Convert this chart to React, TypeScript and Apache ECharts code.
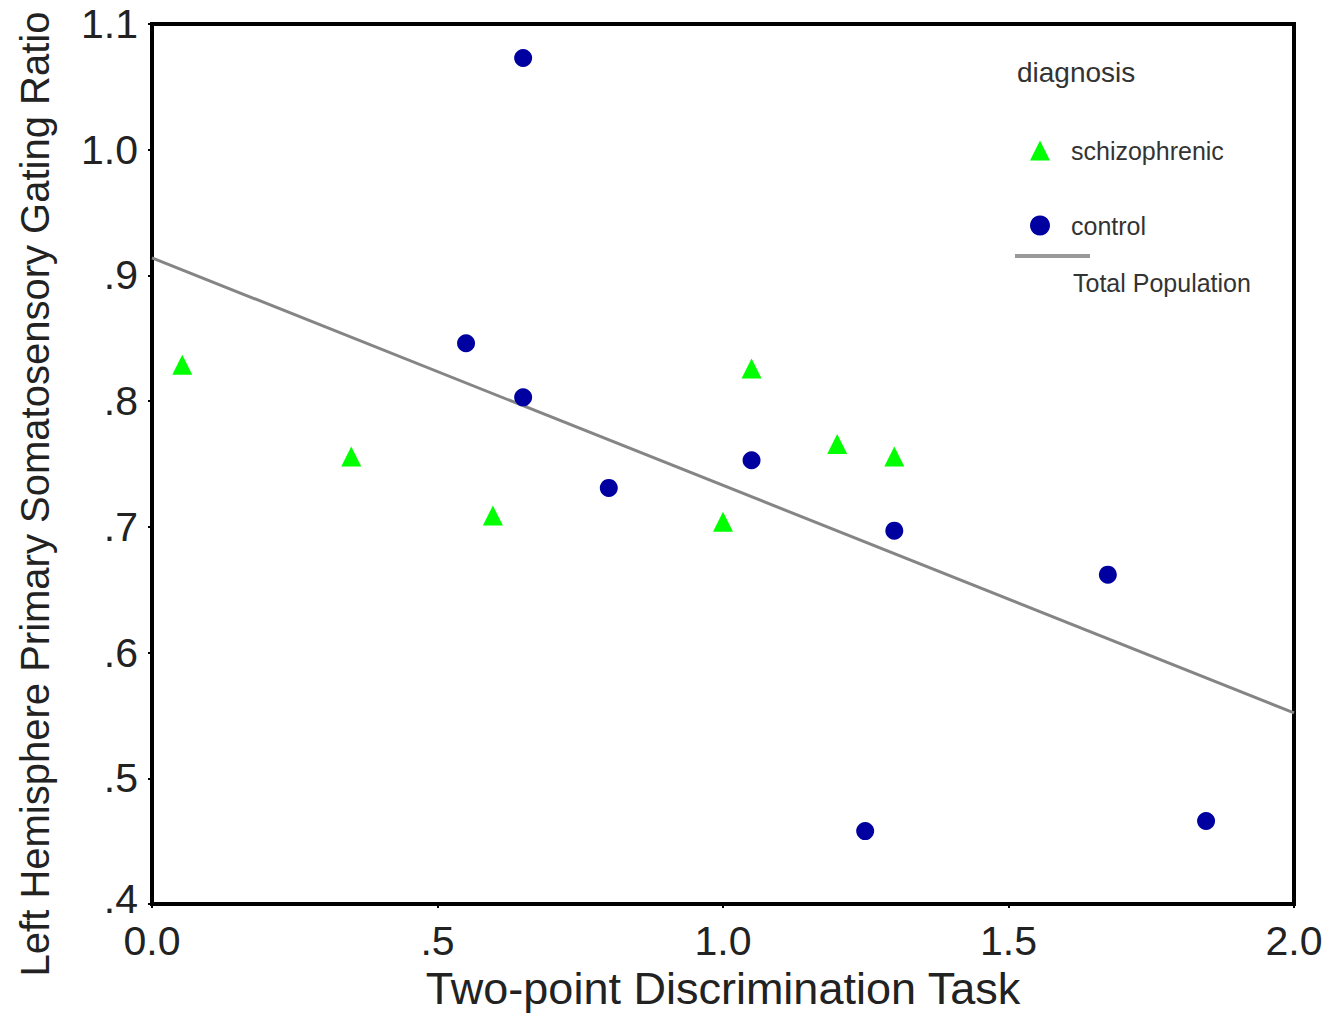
import React, { useEffect, useRef } from "react";
import * as echarts from "echarts";

const schizoX = [0.053, 0.349, 0.597, 1.0, 1.05, 1.2, 1.3];
const schizoY = [0.829, 0.756, 0.709, 0.704, 0.826, 0.766, 0.756];
const controlX = [0.65, 0.55, 0.65, 0.8, 1.05, 1.3, 1.674, 1.249, 1.846];
const controlY = [1.073, 0.846, 0.803, 0.731, 0.753, 0.697, 0.662, 0.458, 0.466];
const fitX = [0, 2];
const fitY = [0.914, 0.552];

const yText = (v: number) => (v >= 1 ? v.toFixed(1) : v.toFixed(1).replace(/^0/, ""));
const yFmt = (v: number) => (v < 0.45 ? "{low|" + yText(v) + "}" : yText(v));
const xFmt = (v: number) => (v === 0 || v >= 1 ? v.toFixed(1) : v.toFixed(1).replace(/^0/, ""));

const FONT = "Liberation Sans, Arial, sans-serif";

export default function App() {
  const ref = useRef<HTMLDivElement>(null);
  useEffect(() => {
    const chart = echarts.init(ref.current!, null, { renderer: "svg" });
    chart.setOption({
      animation: false,
      backgroundColor: "#fff",
      textStyle: { fontFamily: FONT },
      grid: {
        left: 152,
        top: 24,
        right: 38,
        bottom: 113,
        outerBoundsMode: "none",
        containLabel: false,
        show: true,
        borderColor: "#000",
        borderWidth: 4,
        backgroundColor: "#fff",
      },
      xAxis: {
        type: "value",
        min: 0,
        max: 2,
        interval: 0.5,
        name: "Two-point Discrimination Task",
        nameLocation: "middle",
        nameGap: 62,
        nameTextStyle: { fontSize: 45, color: "#222", fontFamily: FONT },
        axisLine: { show: true, lineStyle: { color: "#000", width: 4 } },
        axisTick: { show: true, length: 4, lineStyle: { color: "#000", width: 2 } },
        axisLabel: {
          formatter: xFmt,
          fontSize: 41,
          lineHeight: 34,
          color: "#222",
          margin: 20,
          fontFamily: FONT,
        },
        splitLine: { show: false },
      },
      yAxis: {
        type: "value",
        min: 0.4,
        max: 1.1,
        interval: 0.1,
        axisLine: { show: true, lineStyle: { color: "#000", width: 4 } },
        axisTick: { show: true, length: 4, lineStyle: { color: "#000", width: 2 } },
        axisLabel: {
          formatter: yFmt,
          fontSize: 41,
          lineHeight: 30,
          color: "#222",
          margin: 14,
          fontFamily: FONT,
          rich: {
            low: {
              fontSize: 41,
              lineHeight: 30,
              color: "#222",
              fontFamily: FONT,
              padding: [0, 0, 10, 0],
            },
          },
        },
        splitLine: { show: false },
      },
      legend: {
        orient: "vertical",
        left: 1030,
        top: 138,
        padding: 0,
        itemGap: 50,
        itemWidth: 20,
        itemHeight: 20,
        textStyle: { fontSize: 25, color: "#333", fontFamily: FONT, padding: [0, 0, 0, 16] },
        data: [
          { name: "schizophrenic", icon: "triangle" },
          { name: "control", icon: "circle" },
        ],
      },
      graphic: [
        {
          type: "text",
          x: 35,
          y: 494,
          rotation: Math.PI / 2,
          style: {
            text: "Left Hemisphere Primary Somatosensory Gating Ratio",
            fontSize: 40,
            fill: "#222",
            fontFamily: FONT,
            align: "center",
            verticalAlign: "middle",
          },
        },
        {
          type: "text",
          left: 1017,
          top: 58,
          style: { text: "diagnosis", fontSize: 28, fill: "#333", fontFamily: FONT },
        },
        {
          type: "line",
          shape: { x1: 1015, y1: 256, x2: 1090, y2: 256 },
          style: { stroke: "#999", lineWidth: 4 },
        },
        {
          type: "text",
          left: 1073,
          top: 270,
          style: { text: "Total Population", fontSize: 25, fill: "#333", fontFamily: FONT },
        },
      ],
      series: [
        {
          name: "Total Population",
          type: "line",
          data: fitX.map((x, i) => [x, fitY[i]]),
          showSymbol: false,
          lineStyle: { color: "#858585", width: 3 },
          z: 1,
        },
        {
          name: "schizophrenic",
          type: "scatter",
          symbol: "triangle",
          symbolSize: 20,
          itemStyle: { color: "#00ff00", opacity: 1 },
          data: schizoX.map((x, i) => [x, schizoY[i]]),
          z: 3,
        },
        {
          name: "control",
          type: "scatter",
          symbol: "circle",
          symbolSize: 18,
          itemStyle: { color: "#0000a0", opacity: 1 },
          data: controlX.map((x, i) => [x, controlY[i]]),
          z: 3,
        },
      ],
    });
    return () => chart.dispose();
  }, []);
  return (
    <div
      ref={ref}
      style={{ position: "fixed", left: 0, top: 0, width: 1332, height: 1017 }}
    />
  );
}
